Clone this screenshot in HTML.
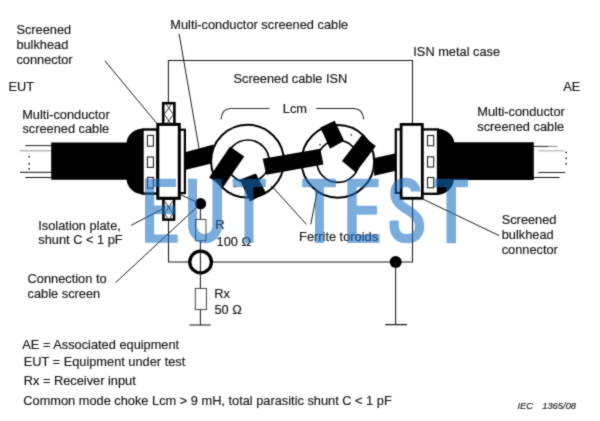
<!DOCTYPE html>
<html><head><meta charset="utf-8">
<style>
html,body{margin:0;padding:0;background:#fff;}
body{width:600px;height:421px;overflow:hidden;font-family:"Liberation Sans",sans-serif;}
svg{display:block;position:absolute;left:0;top:0;will-change:transform;}
text{font-family:"Liberation Sans",sans-serif;font-size:12.8px;fill:#1a1a1a;stroke:#1a1a1a;stroke-width:0.18;}
.it{font-size:9.4px;font-style:italic;fill:#2a2a2a;stroke:#2a2a2a;stroke-width:0.2;}
.ln{stroke:#1a1a1a;stroke-width:1.05;fill:none;}
.br{stroke:#333;stroke-width:1.15;fill:none;}
.th{stroke:#111;stroke-width:0.95;fill:none;}
</style></head>
<body>
<svg width="600" height="421" viewBox="0 0 600 421">
<defs><filter id="sf" x="0" y="0" width="100%" height="100%" color-interpolation-filters="sRGB"><feConvolveMatrix order="3" kernelMatrix="0.03 0.09 0.03 0.09 0.52 0.09 0.03 0.09 0.03" divisor="1" edgeMode="duplicate" preserveAlpha="true"/></filter></defs>
<g filter="url(#sf)">
<rect width="600" height="421" fill="#fff"/>

<!-- ISN case -->
<path class="ln" d="M168.4 103 V60.5 H412.5 V124"/>
<path class="ln" d="M168.5 220 V262 H412.5 V199"/>

<!-- leader lines -->
<path class="th" d="M104.8 60.7 L157 123.6"/>
<path class="th" d="M179.1 33.8 L199 148.3"/>
<path class="th" d="M131.2 225.3 L170 205"/>
<path class="th" d="M115.5 282.7 L197 207"/>
<path class="th" d="M272.2 186.6 L306.3 224.3"/>
<path class="th" d="M310.8 224.3 L317.2 191"/>
<path class="th" d="M423.3 199.3 L499.3 235.7"/>
<path class="th" d="M181 195 L200 203.5"/>

<!-- left cable wires -->
<path d="M25.3 145.6 H52" stroke="#222" stroke-width="1" fill="none"/>
<path d="M20 150.8 H52" stroke="#999" stroke-width="1.1" fill="none"/>
<path d="M20 172.3 H52" stroke="#111" stroke-width="1" fill="none"/>
<path d="M25.3 177.5 H52" stroke="#111" stroke-width="1" fill="none"/>
<g fill="#222"><rect x="28.4" y="156" width="1.6" height="1.5"/><rect x="28.4" y="163" width="1.6" height="1.5"/><rect x="28.4" y="168" width="1.6" height="1.5"/></g>
<!-- left cable + hood -->
<path fill="#000" d="M51.2 142.4 H126.7 C126.7 136 134 129 140.8 129 H146 V194 H140.8 C134 194 126.7 186.5 126.7 179.8 H51.2 Z"/>

<!-- right cable wires -->
<path d="M533 146.4 H548" stroke="#222" stroke-width="1" fill="none"/>
<path d="M548 146.4 H557.5" stroke="#888" stroke-width="1" fill="none"/>
<path d="M538.3 150.8 H564.2" stroke="#aaa" stroke-width="1.1" fill="none"/>
<path d="M538.3 172.5 H565.3" stroke="#222" stroke-width="1" fill="none"/>
<path d="M533 177.5 H559.7" stroke="#111" stroke-width="1" fill="none"/>
<g fill="#222"><rect x="565.4" y="151.8" width="1.6" height="1.5"/><rect x="565.4" y="157.6" width="1.6" height="1.5"/><rect x="565.4" y="163" width="1.6" height="1.5"/></g>
<!-- right cable + hood -->
<path fill="#000" d="M533.8 142.3 H454.2 C454.2 136 446 129 439 129 H434 V194.6 H439 C446 194.6 453.7 187 453.7 180 H533.8 Z"/>

<!-- bands -->
<polygon fill="#000" points="185,152.2 213.5,144.4 213.5,163 185,170"/>
<polygon fill="#000" points="374.5,158.1 396,153.3 396,170.7 374,175.7"/>

<!-- toroid 1 -->
<circle cx="247.5" cy="161.2" r="36.4" fill="#fff" stroke="#000" stroke-width="2"/>
<circle cx="247.9" cy="161.2" r="21.2" fill="#fff" stroke="#000" stroke-width="1.7"/>
<polygon fill="#000" points="230,146.6 244.2,156.6 223.3,187 209.2,177.5"/>
<polygon fill="#000" points="239.6,179.8 255.9,173.4 266,193.1 250.1,201.6"/>
<!-- toroid 2 -->
<circle cx="337.9" cy="161.4" r="36.3" fill="#fff" stroke="#000" stroke-width="2"/>
<circle cx="337.9" cy="161.4" r="21" fill="#fff" stroke="#000" stroke-width="1.7"/>
<polygon fill="#000" points="320.3,127.5 334.7,120.8 344.2,140.8 330,148.7"/>
<polygon fill="#000" points="361.7,135.3 375.8,146 355.8,172.5 342,161"/>
<!-- middle band -->
<polygon fill="#000" points="262.7,158.7 320.3,148.7 323.4,164.5 266.3,174.7"/>
<!-- tiny dots -->
<g fill="#222"><rect x="319.3" y="144" width="1.4" height="1.4"/><rect x="350.5" y="134.3" width="1.4" height="1.4"/><rect x="271" y="186.2" width="1.3" height="1.3"/><rect x="276.4" y="181.6" width="1.3" height="1.3"/><rect x="234.3" y="186.2" width="1.3" height="1.3"/></g>

<!-- Lcm brackets -->
<path class="br" d="M221 119.3 C221.7 113 224.5 108.5 230.5 108.5 H269.5"/>
<path class="br" style="stroke:#222" d="M316.3 108.5 H353.8 C359.8 108.5 363 113 363.8 119.3"/>

<!-- left connector -->
<rect x="163.2" y="103.2" width="11.2" height="21" fill="#fff" stroke="#000" stroke-width="2.6"/>
<g stroke="#3a3a3a" stroke-width="1" fill="none"><path d="M166.1 104.2 L173.3 114.4 L167.3 122.9 M171.4 104.2 L164.3 114.4 L170.2 122.9"/></g>
<rect x="163.4" y="198.6" width="10.7" height="21" fill="#fff" stroke="#000" stroke-width="2.5"/>
<g stroke="#3a3a3a" stroke-width="1" fill="none"><path d="M164.6 200.9 L172.8 213.7 L169.9 218.2 M172.8 200.9 L164.6 213.7 L167.5 218.2"/></g>
<rect x="142.5" y="129.5" width="15" height="64.1" fill="#fff" stroke="#000" stroke-width="2.4"/>
<rect x="179" y="129.7" width="5.9" height="63.4" fill="#fff" stroke="#000" stroke-width="2.2"/>
<rect x="157.8" y="124.4" width="21.5" height="73.9" fill="#fff" stroke="#000" stroke-width="3"/>
<g fill="#fff" stroke="#222" stroke-width="1.1"><rect x="147.4" y="135.4" width="6" height="10.8"/><rect x="147.4" y="157" width="6" height="10.4"/><rect x="147.4" y="177.4" width="6" height="10.8"/></g>

<!-- right connector -->
<rect x="395.8" y="129.4" width="6" height="63.5" fill="#fff" stroke="#000" stroke-width="2.2"/>
<rect x="422" y="129.4" width="16" height="64.4" fill="#fff" stroke="#000" stroke-width="2.3"/>
<rect x="401.1" y="124.4" width="21.2" height="73.9" fill="#fff" stroke="#000" stroke-width="2.8"/>
<g fill="#fff" stroke="#222" stroke-width="1.1"><rect x="427.5" y="135.5" width="6.2" height="10.3"/><rect x="427.5" y="156.8" width="6.2" height="10.2"/><rect x="427.5" y="177.5" width="6.2" height="10.3"/></g>

<!-- circuit -->
<path class="ln" d="M200.4 205 V325"/>
<circle cx="200.6" cy="203.7" r="5.6" fill="#000"/>
<rect x="195.6" y="219.4" width="10.4" height="21.4" fill="#fff" stroke="#333" stroke-width="0.9"/>
<circle cx="200.6" cy="262" r="10.85" fill="#fff" stroke="#000" stroke-width="3.3"/>
<path class="ln" d="M200.4 250 V274"/>
<rect x="195.3" y="288.4" width="11.1" height="21.2" fill="#fff" stroke="#333" stroke-width="0.9"/>
<path class="ln" d="M189.4 325 H210.7"/>
<circle cx="395.7" cy="262" r="6" fill="#000"/>
<path class="ln" d="M395.6 262 V324.6 M385.2 324.6 H407.1"/>

<!-- text -->
<g>
<text x="170.3" y="29.3">Multi-conductor screened cable</text>
<text x="16.4" y="34">Screened</text>
<text x="16.4" y="49.2">bulkhead</text>
<text x="16.4" y="63.7">connector</text>
<text x="8.4" y="90.8">EUT</text>
<text x="22.2" y="118.7">Multi-conductor</text>
<text x="22.4" y="132.8">screened cable</text>
<text x="233.5" y="82.7">Screened cable ISN</text>
<text x="413.3" y="56">ISN metal case</text>
<text x="563.3" y="91.3">AE</text>
<text x="477.3" y="116.2">Multi-conductor</text>
<text x="477.3" y="131">screened cable</text>
<text x="282.8" y="113">Lcm</text>
<text x="38.3" y="229.9">Isolation plate,</text>
<text x="38.3" y="244">shunt C &lt; 1 pF</text>
<text x="27.6" y="283.2">Connection to</text>
<text x="27.6" y="298.1">cable screen</text>
<text x="215.2" y="229.2">R</text>
<text x="216.6" y="245.7">100 Ω</text>
<text x="214.2" y="297.8">Rx</text>
<text x="214.4" y="314.4">50 Ω</text>
<text x="299.1" y="240.7">Ferrite toroids</text>
<text x="501.7" y="224.3">Screened</text>
<text x="501.7" y="239">bulkhead</text>
<text x="501.7" y="254">connector</text>
<text x="22.3" y="348.7">AE = Associated equipment</text>
<text x="23.7" y="366.3">EUT = Equipment under test</text>
<text x="23.7" y="385">Rx = Receiver input</text>
<text x="23.3" y="405">Common mode choke Lcm &gt; 9 mH, total parasitic shunt C &lt; 1 pF</text>
<text class="it" x="517.5" y="408.6">IEC</text>
<text class="it" x="542.2" y="408.6">1365/08</text>
</g>

<!-- watermark -->
<g fill="rgb(23,110,193)" fill-opacity="0.57">
<path d="M145 178.8 H176 V187.1 H154.2 V205.6 H175.2 V214.3 H154.2 V234.4 H177.7 V242.8 H145 Z"/>
<path d="M188.1 178.8 H197 V226 A7.7 8 0 0 0 212.4 226 V178.8 H222.1 V226 A17 17.2 0 0 1 188.1 226 Z"/>
<path d="M232.6 178.7 H265.8 V187 H253.5 V243.1 H244.5 V187 H232.6 Z"/>
<path d="M302.2 178.7 H335.9 V187.3 H323.9 V243.1 H315 V187.3 H302.2 Z"/>
<path d="M347.3 178.7 H378.6 V187.3 H356.8 V205.8 H377.1 V214.7 H356.8 V234.3 H379.6 V243.1 H347.3 Z"/>
<path d="M434.5 178.7 H468 V187.3 H456 V243.2 H446.5 V187.3 H434.5 Z"/>
</g>
<path fill="none" stroke="rgb(23,110,193)" stroke-opacity="0.57" stroke-width="9.3" d="M415.6 191.6 C415.6 185.5 411.5 182.3 405.2 182.3 C398.5 182.3 394.9 187 394.9 193.5 C394.9 201 400 205 407 209.5 C414.5 214 419.6 218.5 419.6 226.5 C419.6 234 415 238.6 407 238.6 C399 238.6 394.2 234 394.2 226 V220.5"/>
</g>
</svg>
</body></html>
